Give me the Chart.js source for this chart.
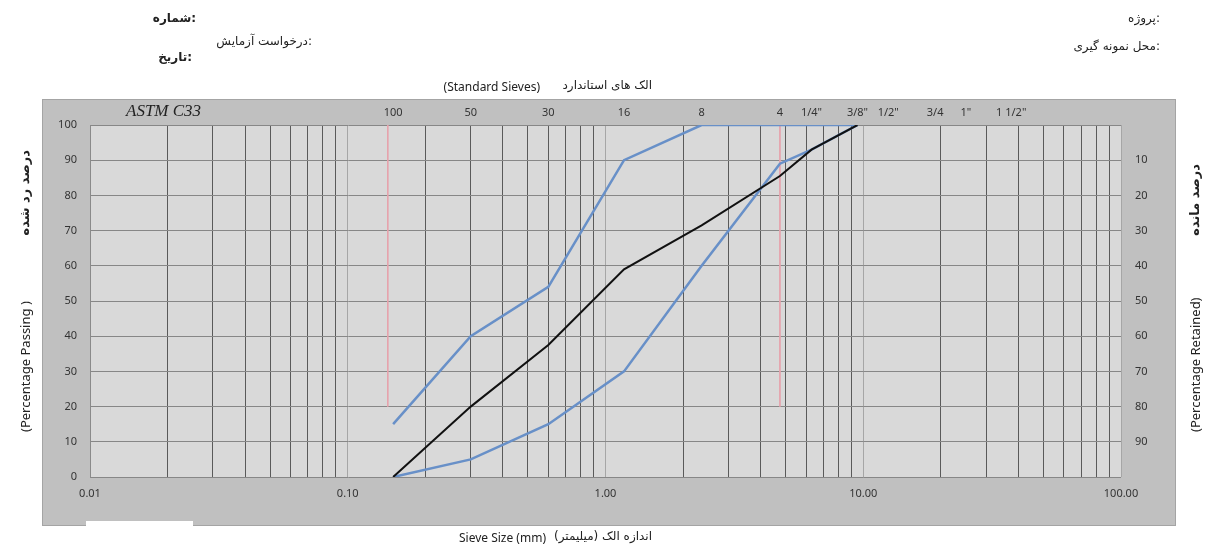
<!DOCTYPE html>
<html>
<head>
<meta charset="utf-8">
<script src="https://cdn.jsdelivr.net/npm/chart.js@4.4.1/dist/chart.umd.min.js"></script>
<style>
  html, body { margin: 0; padding: 0; background: #fff; }
  #wrap { position: relative; width: 1208px; height: 550px; }
</style>
</head>
<body>
<div id="wrap"><canvas id="grading"></canvas></div>
<script>
// ---- data (sieve size in mm, percent passing) ----
const SAMPLE_SIEVES = [0.15, 0.3, 0.6, 1.18, 2.36, 4.75, 6.3, 9.5];
const SAMPLE_PASS   = [0, 20, 37.5, 59, 71.5, 85.5, 93, 100];
const UPPER_SIEVES  = [0.15, 0.3, 0.6, 1.18, 2.36, 4.75, 9.5];
const UPPER_PASS    = [15, 40, 54, 90, 100, 100, 100];
const LOWER_SIEVES  = [0.15, 0.3, 0.6, 1.18, 2.36, 4.75, 6.3, 9.5];
const LOWER_PASS    = [0, 5, 15, 30, 60, 89, 93, 100];
const MARKER_SIEVES = [0.143, 4.75];   // pink reference lines
const MARKER_RANGE  = [100, 20];

// ---- axis ticks ----
const TOP_SIEVES = [0.15, 0.3, 0.6, 1.18, 2.36, 4.75, 6.3, 9.5, 12.5, 19, 25, 37.5];
const TOP_LABELS = ['100', '50', '30', '16', '8', '4', '1/4"', '3/8"', '1/2"', '3/4', '1"', '1 1/2"'];
const X_LABEL_VALUES = [0.01, 0.1, 1, 10, 100];
const X_LABELS = ['0.01', '0.10', '1.00', '10.00', '100.00'];
const DECADES = [0.01, 0.1, 1, 10];

const TICK = '#333';
const TFONT = "'Noto Sans', sans-serif";
const FA = "'DejaVu Sans', sans-serif";

const pts = (xs, ys) => xs.map((x, i) => ({ x: x, y: ys[i] }));
const near = (a, b) => Math.abs(a - b) / b < 1e-6;

// minor log grid: 1..9 per decade
const gridTicks = [];
DECADES.forEach(d => { for (let k = 1; k < 10; k++) gridTicks.push(d * k); });
gridTicks.push(100);

function txt(ctx, s, x, y, font, align, dir) {
  ctx.font = font;
  ctx.textAlign = align || 'left';
  ctx.direction = dir || 'ltr';
  ctx.textBaseline = 'middle';
  ctx.fillText(s, x, y);
}

const frame = {
  id: 'frame',
  beforeDraw(chart) {
    const { ctx, chartArea: a } = chart;
    ctx.save();
    ctx.fillStyle = '#c0c0c0';
    ctx.fillRect(42, 99, 1133, 426);
    ctx.strokeStyle = '#a4a4a4';
    ctx.lineWidth = 1;
    ctx.strokeRect(42.5, 99.5, 1133, 426);
    ctx.fillStyle = '#fff';
    ctx.fillRect(86, 521, 107, 6);
    ctx.fillStyle = '#d9d9d9';
    ctx.fillRect(a.left, a.top, a.right - a.left, a.bottom - a.top);
    ctx.restore();
  },
  afterDraw(chart) {
    const ctx = chart.ctx;
    ctx.save();
    ctx.fillStyle = '#222';
    // header (typed in an LTR cell, so the colon sits on the right)
    txt(ctx, 'شماره:', 196, 19, 'bold 12px ' + FA, 'right');
    txt(ctx, 'درخواست آزمایش:', 312, 42, '12px ' + FA, 'right');
    txt(ctx, 'تاریخ:', 192, 58, 'bold 12px ' + FA, 'right');
    txt(ctx, 'پروژه:', 1160, 19, '12px ' + FA, 'right');
    txt(ctx, 'محل نمونه گیری:', 1160, 47, '12px ' + FA, 'right');
    // chart title in the corner
    txt(ctx, 'ASTM C33', 126, 112, "italic 17px 'Liberation Serif', serif", 'left');
    // top / bottom titles
    txt(ctx, '(Standard Sieves)', 540, 88, '12px ' + TFONT, 'right');
    txt(ctx, 'الک های استاندارد', 652, 86, '12px ' + FA, 'right', 'rtl');
    txt(ctx, 'Sieve Size (mm)', 546, 539, '12px ' + TFONT, 'right');
    txt(ctx, 'اندازه الک (میلیمتر)', 652, 537, '12px ' + FA, 'right', 'rtl');
    // left title, reading upwards
    ctx.save();
    ctx.translate(26, 432);
    ctx.rotate(-Math.PI / 2);
    txt(ctx, '(Percentage Passing )', 0, 0, '13px ' + TFONT, 'left');
    txt(ctx, 'درصد رد شده', 282, 0, 'bold 13px ' + FA, 'right', 'rtl');
    ctx.restore();
    // right title, reading upwards
    ctx.save();
    ctx.translate(1196, 432);
    ctx.rotate(-Math.PI / 2);
    txt(ctx, '(Percentage Retained)', 0, 0, '13px ' + TFONT, 'left');
    txt(ctx, 'درصد مانده', 268, 0, 'bold 13px ' + FA, 'right', 'rtl');
    ctx.restore();
    ctx.restore();
  }
};

const line = (data, color, width, order) => ({
  data: data,
  showLine: true,
  borderColor: color,
  borderWidth: width,
  pointRadius: 0,
  tension: 0,
  order: order
});

new Chart(document.getElementById('grading'), {
  type: 'scatter',
  data: {
    datasets: [
      line(pts(SAMPLE_SIEVES, SAMPLE_PASS), '#111', 2, 1),
      line(pts(UPPER_SIEVES, UPPER_PASS), '#6890c8', 2.5, 2),
      line(pts(LOWER_SIEVES, LOWER_PASS), '#6890c8', 2.5, 2),
      line(pts([MARKER_SIEVES[0], MARKER_SIEVES[0]], MARKER_RANGE), '#e6a2ac', 1, 5),
      line(pts([MARKER_SIEVES[1], MARKER_SIEVES[1]], MARKER_RANGE), '#e6a2ac', 1, 5)
    ]
  },
  options: {
    responsive: true,
    maintainAspectRatio: false,
    animation: false,
    layout: { padding: 0 },
    plugins: { legend: { display: false }, tooltip: { enabled: false } },
    scales: {
      x: {
        type: 'logarithmic',
        position: 'bottom',
        min: 0.01, max: 100,
        afterBuildTicks: (s) => { s.ticks = gridTicks.map(v => ({ value: v })); },
        afterFit: (s) => { s.height = 73; },
        border: { display: false },
        grid: {
          drawTicks: false,
          color: (c) => DECADES.concat([100]).some(d => near(c.tick.value, d)) ? '#a6a6a6' : '#5a5a5a'
        },
        ticks: {
          autoSkip: false, maxRotation: 0, padding: 10,
          color: TICK, font: { family: TFONT, size: 11 },
          callback: (v) => {
            const i = X_LABEL_VALUES.findIndex(d => near(v, d));
            return i < 0 ? '' : X_LABELS[i];
          }
        }
      },
      xTop: {
        type: 'logarithmic',
        position: 'top',
        min: 0.01, max: 100,
        afterBuildTicks: (s) => { s.ticks = TOP_SIEVES.map(v => ({ value: v })); },
        afterFit: (s) => { s.height = 125; },
        border: { display: false },
        grid: { display: false, drawTicks: false },
        ticks: {
          autoSkip: false, maxRotation: 0, padding: 6,
          color: TICK, font: { family: TFONT, size: 11 },
          callback: (v, i) => TOP_LABELS[i]
        }
      },
      y: {
        position: 'left',
        min: 0, max: 100,
        afterFit: (s) => { s.width = 90; },
        border: { display: true, color: '#8a8a8a' },
        grid: { drawTicks: false, color: '#878787' },
        ticks: { stepSize: 10, padding: 13, color: TICK, font: { family: TFONT, size: 11 } }
      },
      y2: {
        position: 'right',
        reverse: true,
        min: 0, max: 100,
        afterFit: (s) => { s.width = 87; },
        border: { display: false },
        grid: { display: false, drawTicks: false },
        ticks: {
          stepSize: 10, padding: 14, color: TICK, font: { family: TFONT, size: 11 },
          callback: (v) => (v === 0 || v === 100) ? '' : v
        }
      }
    }
  },
  plugins: [frame]
});
</script>
</body>
</html>
